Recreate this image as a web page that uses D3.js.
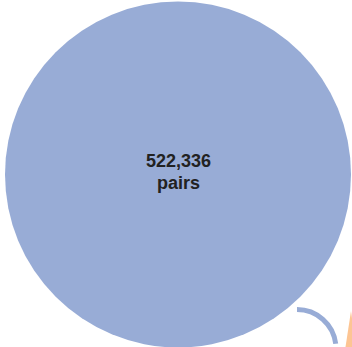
<!DOCTYPE html>
<html>
<head>
<meta charset="utf-8">
<script src="https://cdn.jsdelivr.net/npm/d3@7"></script>
<style>
  html, body { margin: 0; padding: 0; background: #fff; overflow: hidden; }
  svg { display: block; }
</style>
</head>
<body>
<script>
// Set size shown as a bubble (number of pairs)
const groups = ["all pairs"];
const pairCounts = [522336];
const unitLabel = "pairs";
const groupColors = ["#98acd6", "#fdc593"];

const width = 352, height = 347;

const svg = d3.select("body").append("svg")
  .attr("width", width)
  .attr("height", height);

// Bubble area proportional to the count
const radius = d3.scaleSqrt()
  .domain([0, d3.max(pairCounts)])
  .range([0, 173]);

const cx = 178, cy = 174.5;
const r = radius(pairCounts[0]);

svg.append("circle")
  .attr("cx", cx)
  .attr("cy", cy)
  .attr("r", r)
  .attr("fill", groupColors[0]);

// Count label in the middle of the bubble
const fmt = d3.format(",");
const label = svg.append("text")
  .attr("x", cx + 0.5)
  .attr("text-anchor", "middle")
  .attr("font-family", "Liberation Sans, Arial, sans-serif")
  .attr("font-weight", "bold")
  .attr("font-size", 18)
  .attr("fill", "#222");
label.append("tspan").attr("x", cx + 0.5).attr("y", 166.5).text(fmt(pairCounts[0]));
label.append("tspan").attr("x", cx + 0.5).attr("y", 189).text(unitLabel);

// Connector curving from the bubble towards the next group
const p = d3.path();
p.arc(297, 348.5, 39, -Math.PI / 2, -Math.PI / 2 + 1.45, false);
svg.append("path")
  .attr("d", p.toString())
  .attr("fill", "none")
  .attr("stroke", groupColors[0])
  .attr("stroke-width", 5);

// Edge of the neighbouring (orange) group, entering from the right
svg.append("path")
  .attr("d", d3.line()([[351, 311], [356, 347], [345.5, 347]]) + "Z")
  .attr("fill", groupColors[1]);
</script>
</body>
</html>
